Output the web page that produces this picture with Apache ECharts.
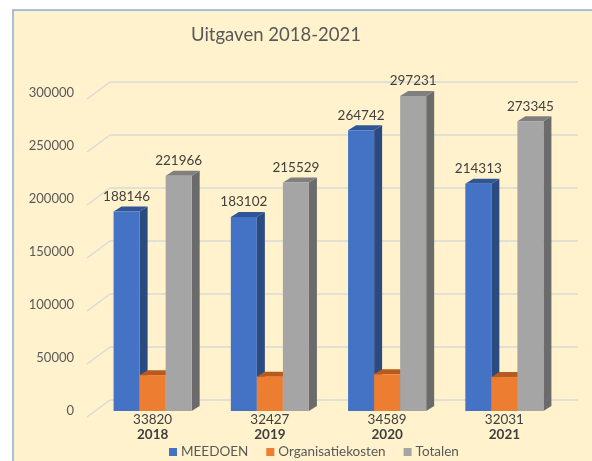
<!DOCTYPE html>
<html>
<head>
<meta charset="UTF-8">
<title>Uitgaven 2018-2021</title>
<style>
  html, body { margin: 0; padding: 0; background: #fff; }
  #main { width: 592px; height: 461px; }
</style>
</head>
<body>
<div id="main"></div>
<script src="https://cdn.jsdelivr.net/npm/echarts@6/dist/echarts.min.js"></script>
<script>
  // data
  var years = ['2018', '2019', '2020', '2021'];
  var meedoen = [188146, 183102, 264742, 214313];
  var organisatie = [33820, 32427, 34589, 32031];
  var totalen = [221966, 215529, 297231, 273345];
  var yTicks = [0, 50000, 100000, 150000, 200000, 250000, 300000];

  var FONT = 'Lato';
  var DX = 8, DY = 5;      // depth of a bar
  var GX = 23, GY = 17;    // depth of the floor / back wall

  // colours: front, side, top
  var colors = {
    'MEEDOEN': ['#4472C4', '#2B4A80', '#2F5597'],
    'Organisatiekosten': ['#ED7D31', '#A9561F', '#B85A1E'],
    'Totalen': ['#A5A5A5', '#6B6B6B', '#7F7F7F']
  };

  function barRender(slot, name, labelBelow) {
    var c = colors[name];
    return function (params, api) {
      var idx = api.value(0);
      var val = api.value(1);
      var top = api.coord([idx, val]);
      var base = api.coord([idx, 0]);
      var band = api.size([1, 0])[0];
      var w = band * 0.222;
      var x0 = top[0] - 1.5 * w + slot * w;
      var x1 = x0 + w;
      var yT = top[1], yB = base[1];
      var children = [
        { type: 'polygon', shape: { points: [[x1, yB], [x1 + DX, yB - DY], [x1 + DX, yT - DY], [x1, yT]] }, style: { fill: c[1] } },
        { type: 'polygon', shape: { points: [[x0, yT], [x0 + DX, yT - DY], [x1 + DX, yT - DY], [x1, yT]] }, style: { fill: c[2] } },
        { type: 'rect', shape: { x: x0, y: yT, width: w, height: yB - yT }, style: { fill: c[0] } }
      ];
      children.push({
        type: 'text',
        style: {
          text: String(val),
          x: (x0 + x1) / 2,
          y: labelBelow ? yB + 2 : yT - DY - 3,
          align: 'center',
          verticalAlign: labelBelow ? 'top' : 'bottom',
          fill: '#404040',
          font: '13.5px ' + FONT
        }
      });
      return { type: 'group', children: children };
    };
  }

  function pairs(arr) {
    var out = [];
    for (var i = 0; i < arr.length; i++) out.push([i, arr[i]]);
    return out;
  }

  var myChart = echarts.init(document.getElementById('main'));

  var option = {
    backgroundColor: '#fff',
    animation: false,
    textStyle: { fontFamily: FONT },
    graphic: [{
      type: 'rect',
      z: -10,
      silent: true,
      shape: { x: 13, y: 10, width: 600, height: 470 },
      style: { fill: '#FFF2CC', stroke: '#8FAADC', lineWidth: 1.5 }
    }],
    title: {
      text: 'Uitgaven 2018-2021',
      left: 186,
      top: 21,
      textStyle: { fontFamily: FONT, fontSize: 18.5, fontWeight: 'normal', color: '#595959' }
    },
    legend: {
      data: ['MEEDOEN', 'Organisatiekosten', 'Totalen'],
      left: 164,
      top: 440,
      icon: 'rect',
      itemWidth: 8,
      itemHeight: 8,
      itemGap: 18,
      textStyle: { fontFamily: FONT, fontSize: 13.5, color: '#595959', padding: [0, 0, 0, -1] }
    },
    grid: {
      left: 94,
      right: 29,
      top: 93,
      bottom: 50
    },
    xAxis: {
      type: 'category',
      data: years,
      axisLine: { show: false },
      axisTick: { show: false },
      axisLabel: { margin: 17, fontFamily: FONT, fontSize: 13.5, fontWeight: 'bold', color: '#404040' }
    },
    yAxis: {
      type: 'value',
      min: 0,
      max: 300000,
      interval: 50000,
      axisLine: { show: false },
      axisTick: { show: false },
      splitLine: { show: false },
      axisLabel: {
        margin: 20, fontFamily: FONT, fontSize: 13, color: '#595959', padding: [12, 0, 0, 0],
        formatter: function (v) { return String(v); }
      }
    },
    series: [
      {
        type: 'custom',
        silent: true,
        z: 1,
        data: yTicks,
        renderItem: function (params, api) {
          var p = api.coord([0, api.value(0)]);
          var cs = params.coordSys;
          var fx = cs.x - 7, fy = p[1] + 6;
          var bx = fx + GX, by = fy - GY;
          var ex = cs.x + cs.width + 15;
          var st = { stroke: '#D9D9D9', lineWidth: 1.5 };
          return {
            type: 'group',
            children: [
              { type: 'line', shape: { x1: fx, y1: fy, x2: bx, y2: by }, style: st },
              { type: 'line', shape: { x1: bx, y1: by, x2: ex, y2: by }, style: st }
            ]
          };
        },
        encode: { y: 0 }
      },
      { name: 'MEEDOEN', type: 'custom', z: 2, data: pairs(meedoen), renderItem: barRender(0, 'MEEDOEN', false), itemStyle: { color: '#4472C4' }, encode: { x: 0, y: 1 } },
      { name: 'Organisatiekosten', type: 'custom', z: 3, data: pairs(organisatie), renderItem: barRender(1, 'Organisatiekosten', true), itemStyle: { color: '#ED7D31' }, encode: { x: 0, y: 1 } },
      { name: 'Totalen', type: 'custom', z: 4, data: pairs(totalen), renderItem: barRender(2, 'Totalen', false), itemStyle: { color: '#A5A5A5' }, encode: { x: 0, y: 1 } }
    ]
  };
  myChart.setOption(option);
</script>
</body>
</html>
